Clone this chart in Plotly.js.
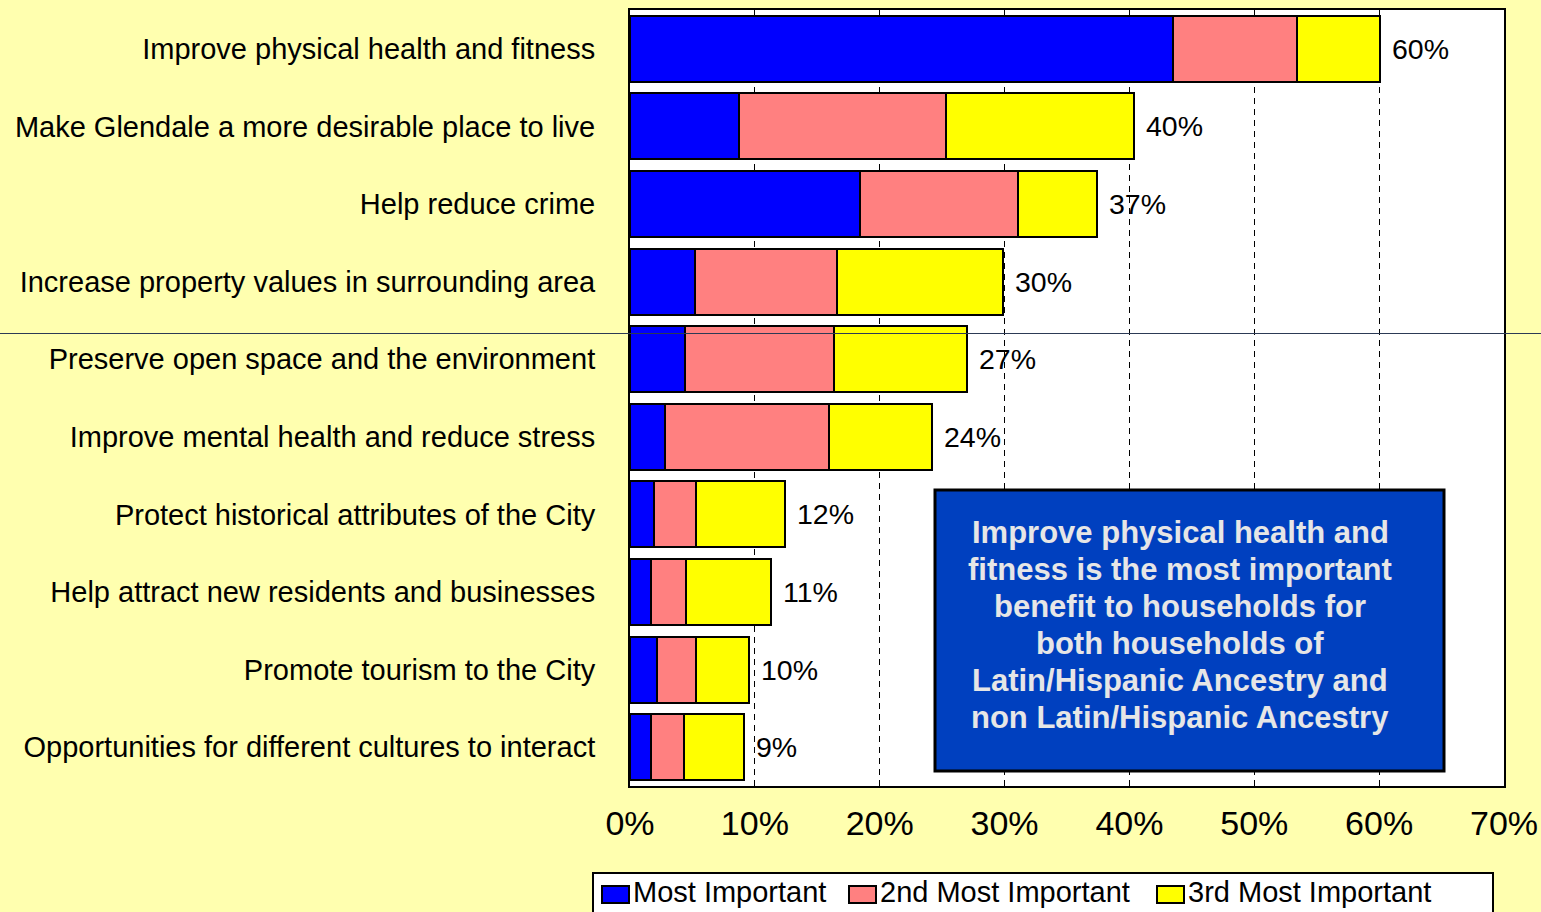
<!DOCTYPE html>
<html>
<head>
<meta charset="utf-8">
<script src="https://cdn.plot.ly/plotly-3.0.1.min.js"></script>
<style>html,body{margin:0;padding:0;background:#FFFFAF;overflow:hidden;}#chart{width:1541px;height:912px;}</style>
</head>
<body>
<div id="chart"></div>
<script>
const categories = [
  "Improve physical health and fitness",
  "Make Glendale a more desirable place to live",
  "Help reduce crime",
  "Increase property values in surrounding area",
  "Preserve open space and the environment",
  "Improve mental health and reduce stress",
  "Protect historical attributes of the City",
  "Help attract new residents and businesses",
  "Promote tourism to the City",
  "Opportunities for different cultures to interact"
];
const mostImportant   = [43.5, 8.7, 18.4, 5.2, 4.4, 2.8, 1.9, 1.7, 2.2, 1.7];
const secondImportant = [9.9, 16.6, 12.7, 11.4, 11.9, 13.1, 3.4, 2.8, 3.1, 2.6];
const thirdImportant  = [6.7, 15.1, 6.3, 13.3, 10.7, 8.3, 7.1, 6.8, 4.2, 4.8];
const totalLabels = ["60%", "40%", "37%", "30%", "27%", "24%", "12%", "11%", "10%", "9%"];
const seriesNames = ["Most Important", "2nd Most Important", "3rd Most Important"];
const seriesColors = ["#0000FF", "#FF8080", "#FFFF00"];
const xTicks = [0, 10, 20, 30, 40, 50, 60, 70];
const noteLines = [
  "Improve physical health and",
  "fitness is the most important",
  "benefit to households for",
  "both households of",
  "Latin/Hispanic Ancestry and",
  "non Latin/Hispanic Ancestry"
];

const FONT = "Liberation Sans, Arial, sans-serif";
const seriesValues = [mostImportant, secondImportant, thirdImportant];
const traces = seriesValues.map((vals, i) => ({
  type: "bar",
  orientation: "h",
  name: seriesNames[i],
  y: categories,
  x: vals,
  marker: { color: seriesColors[i], line: { color: "#000000", width: 2 } },
  hoverinfo: "x+y+name"
}));

const totals = categories.map((c, i) => mostImportant[i] + secondImportant[i] + thirdImportant[i]);

const annotations = categories.map((c, i) => ({
  x: totals[i], y: c, xref: "x", yref: "y",
  text: totalLabels[i], showarrow: false,
  xanchor: "left", yanchor: "middle", xshift: 10,
  font: { family: FONT, size: 28.5, color: "#000000" }
}));

const W = 1541, H = 912;
const plotTop = 10, plotBottom = 786, plotLeft = 630, plotRight = 1504;
const py = v => (plotBottom - v) / (plotBottom - plotTop);
const px = v => (v - plotLeft) / (plotRight - plotLeft);

const lineYs = [532, 569, 606, 643, 680, 717];
noteLines.forEach((t, i) => annotations.push({
  x: px(1180), y: py(lineYs[i]), xref: "paper", yref: "paper",
  text: "<b>" + t + "</b>", showarrow: false, xanchor: "center", yanchor: "middle",
  font: { family: FONT, size: 31, color: "#E6E6E6" }
}));

const shapes = [
  { type: "line", xref: "paper", yref: "paper", x0: px(0), x1: px(W), y0: py(333.5), y1: py(333.5),
    line: { color: "#2C3A55", width: 1 }, layer: "above" },
  { type: "rect", xref: "paper", yref: "paper", x0: px(935), x1: px(1444), y0: py(771), y1: py(490),
    fillcolor: "#0040BF", line: { color: "#000000", width: 3 }, layer: "above" },
  // legend box
  { type: "rect", xref: "paper", yref: "paper", x0: px(593), x1: px(1493), y0: py(935), y1: py(873),
    fillcolor: "#FFFFFF", line: { color: "#000000", width: 2 }, layer: "above" }
];

// legend entries (custom, so the legend does not shrink the plot area)
const legendSwatchX = [602, 849, 1157];
seriesNames.forEach((n, i) => {
  shapes.push({ type: "rect", xref: "paper", yref: "paper",
    x0: px(legendSwatchX[i]), x1: px(legendSwatchX[i] + 27), y0: py(903), y1: py(886),
    fillcolor: seriesColors[i], line: { color: "#000000", width: 2 }, layer: "above" });
  annotations.push({ x: px(legendSwatchX[i] + 29), y: py(892), xref: "paper", yref: "paper",
    text: n, showarrow: false, xanchor: "left", yanchor: "middle",
    font: { family: FONT, size: 29, color: "#000000" } });
});

const layout = {
  width: W, height: H,
  paper_bgcolor: "#FFFFAF",
  plot_bgcolor: "#FFFFFF",
  barmode: "stack",
  bargap: 0.15,
  margin: { l: plotLeft, r: W - plotRight, t: plotTop, b: H - plotBottom, pad: 0, autoexpand: false },
  font: { family: FONT, color: "#000000" },
  showlegend: false,
  xaxis: {
    range: [0, 70], tickvals: xTicks, ticktext: xTicks.map(v => v + "%"),
    showgrid: true, gridcolor: "#000000", gridwidth: 1, griddash: "6px,5px",
    zeroline: false, showline: true, linecolor: "#000000", linewidth: 2, mirror: true,
    ticks: "", ticklabelstandoff: 6, automargin: false,
    tickfont: { size: 34, family: FONT }
  },
  yaxis: {
    autorange: "reversed", type: "category",
    showline: true, linecolor: "#000000", linewidth: 2, mirror: true,
    showgrid: false, zeroline: false, ticks: "", ticklabelstandoff: 27, automargin: false,
    tickfont: { size: 29, family: FONT }
  },
  annotations: annotations,
  shapes: shapes
};

Plotly.newPlot("chart", traces, layout, { displayModeBar: false, staticPlot: true });
</script>
</body>
</html>
